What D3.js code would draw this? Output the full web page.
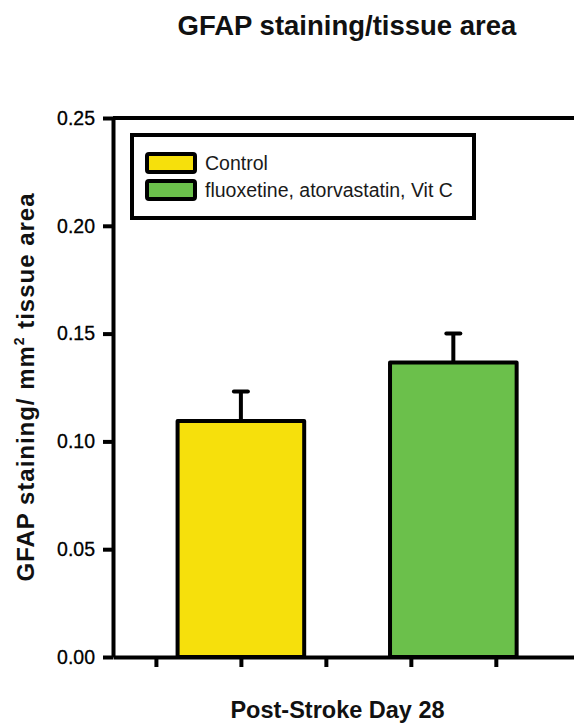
<!DOCTYPE html>
<html>
<head>
<meta charset="utf-8">
<script src="https://cdn.jsdelivr.net/npm/d3@7"></script>
<style>
  body { margin: 0; background: #fff; }
  svg { display: block; font-family: 'Liberation Sans', Arial, sans-serif; }
</style>
</head>
<body>
<svg id="chart" width="574" height="725"></svg>
<script>
// data
const groups = ['Control', 'fluoxetine, atorvastatin, Vit C'];
const means = [0.1095, 0.1366];
const sems = [0.0136, 0.0135];
const barCenters = [2, 4.5]; // x position in axis units
const colors = ['#F6E00C', '#6BC04B'];
const yTicks = [0, 0.05, 0.1, 0.15, 0.2, 0.25];
const xTicks = [1, 2, 3, 4, 5];

function drawChart() {
  const svg = d3.select('#chart');

  const y = d3.scaleLinear().domain([0, 0.25]).range([657, 118]);
  const x = d3.scaleLinear().domain([0.495, 5.92]).range([113, 574]);
  const barW = 1.49;

  // title
  svg.append('text')
    .attr('x', 347).attr('y', 35)
    .attr('text-anchor', 'middle')
    .attr('font-size', 27.5).attr('font-weight', 'bold')
    .attr('fill', '#111')
    .text('GFAP staining/tissue area');

  // bars
  const bars = svg.selectAll('g.bar')
    .data(groups.map((g, i) => ({ name: g, mean: means[i], sem: sems[i], pos: barCenters[i], color: colors[i] })))
    .enter()
    .append('g')
    .classed('bar', true);

  bars.append('line')
    .attr('x1', (d) => x(d.pos)).attr('x2', (d) => x(d.pos))
    .attr('y1', (d) => y(d.mean)).attr('y2', (d) => y(d.mean + d.sem))
    .attr('stroke', '#000').attr('stroke-width', 4);

  bars.append('line')
    .attr('x1', (d) => x(d.pos) - 7).attr('x2', (d) => x(d.pos) + 7)
    .attr('y1', (d) => y(d.mean + d.sem)).attr('y2', (d) => y(d.mean + d.sem))
    .attr('stroke', '#000').attr('stroke-width', 4).attr('stroke-linecap', 'round');

  bars.append('rect')
    .attr('x', (d) => x(d.pos - barW / 2))
    .attr('width', (d) => x(d.pos + barW / 2) - x(d.pos - barW / 2))
    .attr('y', (d) => y(d.mean))
    .attr('height', (d) => y(0) - y(d.mean))
    .attr('fill', (d) => d.color)
    .attr('stroke', '#000').attr('stroke-width', 4).attr('stroke-linejoin', 'round');

  // axes
  const yAxis = svg.append('g')
    .attr('transform', `translate(${x.range()[0]},0)`)
    .call(d3.axisLeft(y).tickValues(yTicks).tickFormat(d3.format('.2f')).tickSize(10).tickSizeOuter(0).tickPadding(8));

  const xAxis = svg.append('g')
    .attr('transform', `translate(0,${y(0)})`)
    .call(d3.axisBottom(x).tickValues(xTicks).tickFormat('').tickSize(10).tickSizeOuter(0));

  // top frame line
  svg.append('line')
    .attr('x1', x.range()[0]).attr('x2', x.range()[1])
    .attr('y1', y(0.25)).attr('y2', y(0.25))
    .attr('stroke', '#000').attr('stroke-width', 4);

  [yAxis, xAxis].forEach((a) => {
    a.select('.domain').attr('stroke', '#000').attr('stroke-width', 4);
    a.selectAll('.tick line').attr('stroke', '#000').attr('stroke-width', 4);
  });
  yAxis.selectAll('.tick text')
    .attr('font-size', 19.5)
    .attr('font-family', "'Liberation Sans', Arial, sans-serif")
    .attr('fill', '#000')
    .attr('stroke', '#000').attr('stroke-width', 0.3);

  // axis labels
  svg.append('text')
    .attr('x', 337.5).attr('y', 718)
    .attr('text-anchor', 'middle')
    .attr('font-size', 23.5).attr('font-weight', 'bold')
    .attr('fill', '#111')
    .text('Post-Stroke Day 28');

  const yl = svg.append('text')
    .attr('transform', 'translate(34,387.5) rotate(-90)')
    .attr('text-anchor', 'middle')
    .attr('font-size', 24).attr('font-weight', 'bold')
    .attr('textLength', 388).attr('lengthAdjust', 'spacing')
    .attr('fill', '#111');
  yl.append('tspan').text('GFAP staining/ mm');
  yl.append('tspan').attr('font-size', 14).attr('dy', -10).text('2');
  yl.append('tspan').attr('dy', 10).text(' tissue area');

  // legend
  const legend = svg.append('g');
  legend.append('rect')
    .attr('x', 132).attr('y', 135).attr('width', 342).attr('height', 83)
    .attr('fill', '#fff').attr('stroke', '#000').attr('stroke-width', 4);

  const item = legend.selectAll('g.item')
    .data(groups.map((g, i) => ({ name: g, color: colors[i] })))
    .enter()
    .append('g')
    .classed('item', true)
    .attr('transform', (d, i) => `translate(147, ${154 + i * 27})`);

  item.append('rect')
    .attr('width', 48).attr('height', 18).attr('rx', 2)
    .attr('fill', (d) => d.color)
    .attr('stroke', '#000').attr('stroke-width', 4);

  item.append('text')
    .attr('x', 58).attr('y', 16)
    .attr('font-size', 19.5)
    .attr('fill', '#1a1a1a')
    .text((d) => d.name);
}

drawChart();
</script>
</body>
</html>
